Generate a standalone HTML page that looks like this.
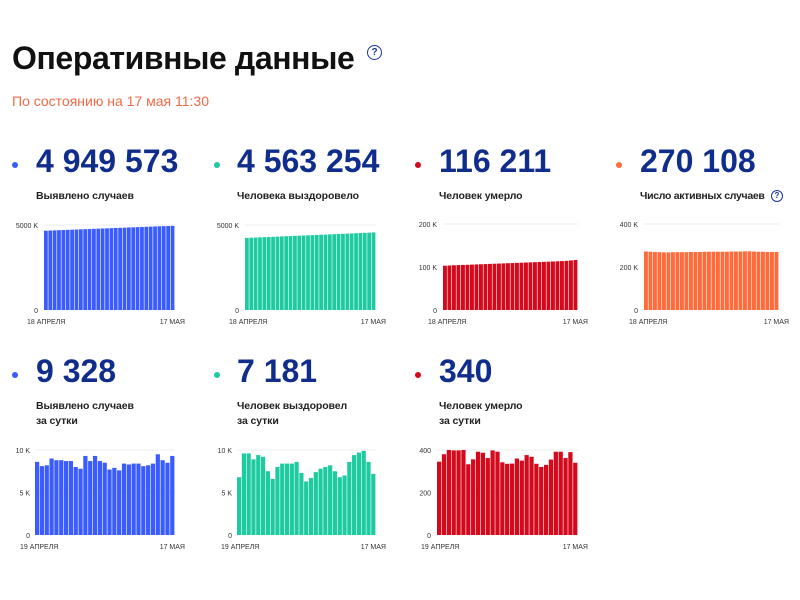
<!DOCTYPE html>
<html><head><meta charset="utf-8">
<style>
body{margin:0;width:800px;height:600px;background:#fff;font-family:"Liberation Sans","DejaVu Sans",sans-serif;position:relative;overflow:hidden}
.abs{position:absolute}
.title{left:12px;top:40px;font-size:32px;font-weight:bold;color:#111;letter-spacing:-0.4px}
.q{width:13px;height:13px;border:1.5px solid #1a3399;border-radius:50%;color:#1a3399;font-size:10px;font-weight:bold;text-align:center;line-height:13px}
.sub{left:12px;top:93px;font-size:14px;color:#f26a47}
.num{font-size:32px;font-weight:bold;color:#102d8c;line-height:32px}
.lbl{font-size:10.5px;font-weight:bold;color:#222;line-height:15px;letter-spacing:-0.1px}
.dot{width:6px;height:6px;border-radius:50%}
svg{position:absolute;left:0;top:0}
</style></head><body>
<div class="abs title">Оперативные данные</div>
<div class="abs q" style="left:367px;top:45px">?</div>
<div class="abs sub">По состоянию на 17 мая 11:30</div>

<div class="abs dot" style="left:12px;top:162px;background:#3a5cff"></div>
<div class="abs num" style="left:36px;top:145px">4 949 573</div>
<div class="abs lbl" style="left:36px;top:189px">Выявлено случаев</div>

<div class="abs dot" style="left:214px;top:162px;background:#1ecba0"></div>
<div class="abs num" style="left:237px;top:145px">4 563 254</div>
<div class="abs lbl" style="left:237px;top:189px">Человека выздоровело</div>

<div class="abs dot" style="left:415px;top:162px;background:#d5091c"></div>
<div class="abs num" style="left:439px;top:145px">116 211</div>
<div class="abs lbl" style="left:439px;top:189px">Человек умерло</div>

<div class="abs dot" style="left:616px;top:162px;background:#ff6b3b"></div>
<div class="abs num" style="left:640px;top:145px">270 108</div>
<div class="abs lbl" style="left:640px;top:189px;letter-spacing:-0.3px">Число активных случаев</div>
<div class="abs q" style="left:771px;top:190px;width:10px;height:10px;line-height:10px;font-size:8px;border-width:1px">?</div>

<div class="abs dot" style="left:12px;top:372px;background:#3a5cff"></div>
<div class="abs num" style="left:36px;top:355px">9 328</div>
<div class="abs lbl" style="left:36px;top:399px">Выявлено случаев<br>за сутки</div>

<div class="abs dot" style="left:214px;top:372px;background:#1ecba0"></div>
<div class="abs num" style="left:237px;top:355px">7 181</div>
<div class="abs lbl" style="left:237px;top:399px">Человек выздоровел<br>за сутки</div>

<div class="abs dot" style="left:415px;top:372px;background:#d5091c"></div>
<div class="abs num" style="left:439px;top:355px">340</div>
<div class="abs lbl" style="left:439px;top:399px">Человек умерло<br>за сутки</div>

<svg id="charts" width="800" height="600"></svg>
<script>
const casesTotal=[4665,4675,4685,4695,4705,4715,4725,4735,4745,4755,4765,4775,4785,4795,4805,4815,4825,4835,4845,4855,4865,4875,4885,4895,4905,4915,4925,4933,4941,4950];
const recoveredTotal=[4240,4251,4262,4273,4284,4295,4306,4317,4328,4339,4350,4361,4372,4383,4394,4405,4416,4427,4438,4449,4460,4471,4482,4493,4504,4515,4526,4538,4550,4563];
const deathsTotal=[103,103.5,104,104.4,104.8,105.2,105.6,106,106.4,106.8,107.2,107.6,108,108.4,108.8,109.2,109.6,110,110.4,110.8,111.2,111.6,112,112.4,112.8,113.3,113.8,114.4,115.2,116.2];
const activeTotal=[272,271,270,269,268,268,269,269,269,269,270,270,270,271,271,271,271,271,271,272,272,272,273,273,272,271,271,270,270,270];
const dailyCases=[8.6,8.1,8.2,9.0,8.8,8.8,8.7,8.7,8.0,7.8,9.3,8.7,9.3,8.7,8.5,7.7,7.9,7.6,8.4,8.3,8.4,8.4,8.1,8.2,8.4,9.5,8.8,8.5,9.3];
const dailyRecovered=[6.8,9.6,9.6,8.9,9.4,9.2,7.5,6.6,8.0,8.4,8.4,8.4,8.6,7.3,6.3,6.7,7.4,7.8,8.0,8.2,7.5,6.8,7.0,8.6,9.4,9.7,9.9,8.6,7.2];
const dailyDeaths=[345,380,400,398,398,400,333,356,392,387,362,398,392,342,335,336,360,350,376,368,335,320,330,355,392,392,362,390,340];
const ticksCases=["0","5000 K"], ticksRecovered=["0","5000 K"], ticksDeaths=["0","100 K","200 K"], ticksActive=["0","200 K","400 K"];
const ticksDaily=["0","5 K","10 K"], ticksDailyDeaths=["0","200","400"];
const startLabel="18 АПРЕЛЯ", dailyStartLabel="19 АПРЕЛЯ", endLabel="17 МАЯ";

const svg=document.getElementById('charts');
const NS='http://www.w3.org/2000/svg';
function mk(tag,attrs){const e=document.createElementNS(NS,tag);for(const k in attrs)e.setAttribute(k,attrs[k]);svg.appendChild(e);return e;}
function chart(name,data,ticks,max,x0,x1,yTop,yBot,color,labelX,startL,tickRight){
  const ys=v=>yBot-(v/max)*(yBot-yTop);
  ticks.forEach((t,i)=>{
    const val=max*i/(ticks.length-1), y=ys(val);
    if(i>0){const g=mk('line',{x1:x0,x2:x1,y1:y,y2:y,stroke:'#eee','stroke-width':1});
      
      }
    const tx=mk('text',{x:tickRight,y:y+3,'text-anchor':'end','font-size':7,fill:'#333','font-family':'Liberation Sans, sans-serif'});
    tx.textContent=t;
    
    
  });
  const w=(x1-x0)/data.length;
  data.forEach((v,i)=>{
    const y=ys(v);
    const r=mk('rect',{x:x0+i*w,y:y,width:Math.max(w-0.6,0.5),height:yBot-y,fill:color});
    
    
  });
  const a=mk('text',{x:labelX,y:yBot+14,'font-size':7,fill:'#333','font-family':'Liberation Sans, sans-serif'});
  a.textContent=startL;
  
  
  const b=mk('text',{x:x1+10,y:yBot+14,'text-anchor':'end','font-size':7,fill:'#333','font-family':'Liberation Sans, sans-serif'});
  b.textContent=endLabel;
  
  
}
chart('cases-chart',casesTotal,ticksCases,5000,44,175,225,310,'#3a5cff',27,startLabel,38);
chart('recovered-chart',recoveredTotal,ticksRecovered,5000,245,376,225,310,'#1ecba0',229,startLabel,239);
chart('deaths-chart',deathsTotal,ticksDeaths,200,443,578,224,310,'#d5091c',428,startLabel,437);
chart('active-chart',activeTotal,ticksActive,400,644,779,224,310,'#ff6b3b',629,startLabel,638);
chart('daily-cases-chart',dailyCases,ticksDaily,10,35,175,450,535,'#3a5cff',20,dailyStartLabel,30);
chart('daily-recovered-chart',dailyRecovered,ticksDaily,10,237,376,450,535,'#1ecba0',221,dailyStartLabel,232);
chart('daily-deaths-chart',dailyDeaths,ticksDailyDeaths,400,437,578,450,535,'#d5091c',421,dailyStartLabel,431);
</script>
</body></html>
